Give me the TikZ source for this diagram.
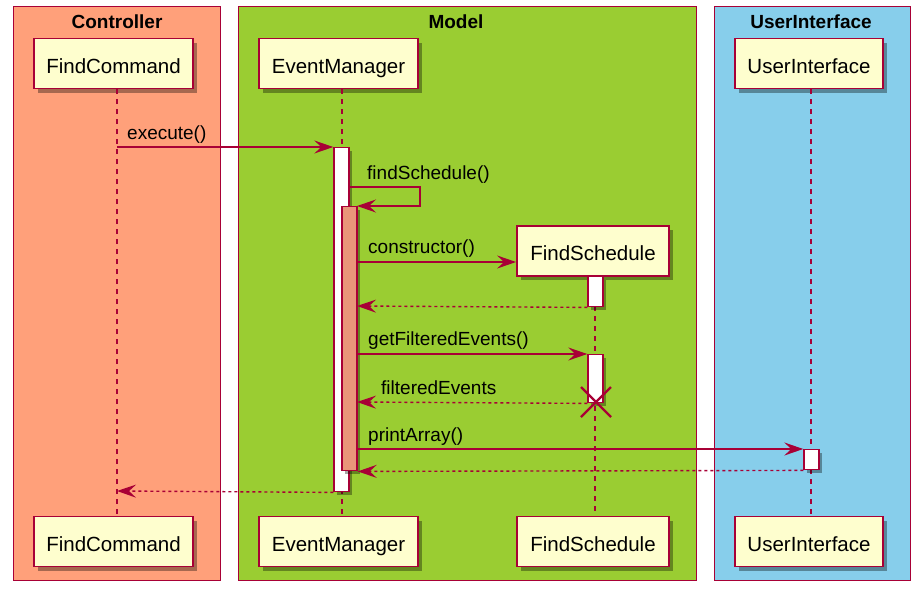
\documentclass[tikz,border=0pt]{standalone}
\usepackage{fontspec}
\setmainfont{Liberation Sans}
\usetikzlibrary{arrows.meta,shadows,calc}
\definecolor{pumlred}{HTML}{A80036}
\definecolor{partfill}{HTML}{FEFECE}
\definecolor{ctrlfill}{HTML}{FFA07A}
\definecolor{modelfill}{HTML}{9ACD32}
\definecolor{uifill}{HTML}{87CEEB}
\definecolor{actfill}{HTML}{E9967A}
\tikzset{
  frame/.style={draw=pumlred, line width=1.2pt},
  frametitle/.style={font=\fontsize{19}{22}\selectfont\bfseries, anchor=center},
  part/.style={draw=pumlred, line width=1.8pt, fill=partfill, minimum width=159pt, minimum height=50pt, inner sep=0pt,
    text height=19.6pt, text depth=0pt,
    font=\fontsize{20.5}{24}\selectfont, drop shadow={shadow xshift=4pt, shadow yshift=-4pt, fill=black, opacity=0.35}},
  act/.style={draw=pumlred, line width=1.4pt, fill=white, minimum width=15pt, inner sep=0pt, anchor=north,
    drop shadow={shadow xshift=3pt, shadow yshift=-3pt, fill=black, opacity=0.35}},
  life/.style={draw=pumlred, line width=1.3pt, dash pattern=on 5pt off 5pt},
  msg/.style={draw=pumlred, line width=1.4pt, -{Stealth[length=19pt,width=13pt,inset=7pt]}},
  ret/.style={msg, dash pattern=on 3pt off 3pt},
  lbl/.style={font=\fontsize{19}{22}\selectfont, anchor=base west, inner sep=0pt},
}
\begin{document}
\begin{tikzpicture}[x=1pt,y=-1pt]
\useasboundingbox (0,0) rectangle (924,595);
% frames
\node[frame, fill=ctrlfill, minimum width=207pt, minimum height=574pt, anchor=north west, inner sep=0pt] (ctrl) at (13,6) {};
\node[frame, fill=modelfill, minimum width=458pt, minimum height=574pt, anchor=north west, inner sep=0pt] (model) at (238,6) {};
\node[frame, fill=uifill, minimum width=196pt, minimum height=574pt, anchor=north west, inner sep=0pt] (uibox) at (714,6) {};
\node[frametitle] (ctrlT) at (117,21.5) {Controller};
\node[frametitle] (modelT) at (456,21.5) {Model};
\node[frametitle] (uiT) at (811,21.5) {UserInterface};
% participants
\node[part] (fcT) at (113.5,63.5) {FindCommand};
\node[part] (emT) at (338.5,63.5) {EventManager};
\node[part, minimum width=148pt] (uiP) at (809,63.5) {UserInterface};
\node[part, minimum width=152pt] (fsT) at (593,251) {FindSchedule};
\node[part] (fcB) at (113.5,541.5) {FindCommand};
\node[part] (emB) at (338.5,541.5) {EventManager};
\node[part, minimum width=152pt] (fsB) at (593,541.5) {FindSchedule};
\node[part, minimum width=148pt] (uiB) at (809,541.5) {UserInterface};
% lifeline coordinates
\coordinate (fcL1) at (117,89); \coordinate (fcL2) at (117,516);
\coordinate (emL1) at (342,89); \coordinate (emL2) at (342,516);
\coordinate (fsL1) at (595,276); \coordinate (fsL2) at (595,516);
\coordinate (uiL1) at (811,89); \coordinate (uiL2) at (811,516);
\draw[life] (fcL1) -- (fcL2);
\draw[life] (emL1) -- (emL2);
\draw[life] (fsL1) -- (fsL2);
\draw[life] (uiL1) -- (uiL2);
% activations
\node[act, minimum height=344pt] (a1) at (341.5,147) {};
\node[act, fill=actfill, minimum height=264pt] (a2) at (349.5,206) {};
\node[act, minimum height=30pt] (a3) at (595.5,276) {};
\node[act, minimum height=48pt] (a4) at (595.5,354) {};
\node[act, minimum height=20pt] (a5) at (811.5,449) {};
% messages
\coordinate (m1s) at (117,147);
\draw[msg] (m1s) -- (a1.north west);
\node[lbl] (l1) at (127,139) {execute()};
\coordinate (m2s) at (349,187);
\coordinate (m2e) at (357,206);
\draw[msg] (m2s) -- (420,187) -- (420,206) -- (m2e);
\node[lbl] (l2) at (367,179) {findSchedule()};
\coordinate (m3s) at (357,262);
\draw[msg] (m3s) -- (fsT.west |- m3s);
\node[lbl] (l3) at (368,253) {constructor()};
\coordinate (m4e) at (357,306);
\draw[ret] (a3.south west) -- (m4e);
\coordinate (m5s) at (357,354);
\draw[msg] (m5s) -- (a4.north west);
\node[lbl] (l5) at (368,345) {getFilteredEvents()};
\coordinate (m6e) at (357,402);
\draw[ret] (a4.south west) -- (m6e);
\node[lbl] (l6) at (381,394) {filteredEvents};
\coordinate (m7s) at (357,449);
\draw[msg] (m7s) -- (a5.north west);
\node[lbl] (l7) at (368,441) {printArray()};
\draw[ret] (a5.south west) -- (a2.south east);
\coordinate (m9e) at (117,491);
\draw[ret] (a1.south west) -- (m9e);
% destroy
\coordinate (x) at (596,402);
\draw[pumlred, line width=2.2pt] ($(x)+(-15,-15)$) -- ($(x)+(15,15)$) ($(x)+(-15,15)$) -- ($(x)+(15,-15)$);
\end{tikzpicture}
\end{document}
